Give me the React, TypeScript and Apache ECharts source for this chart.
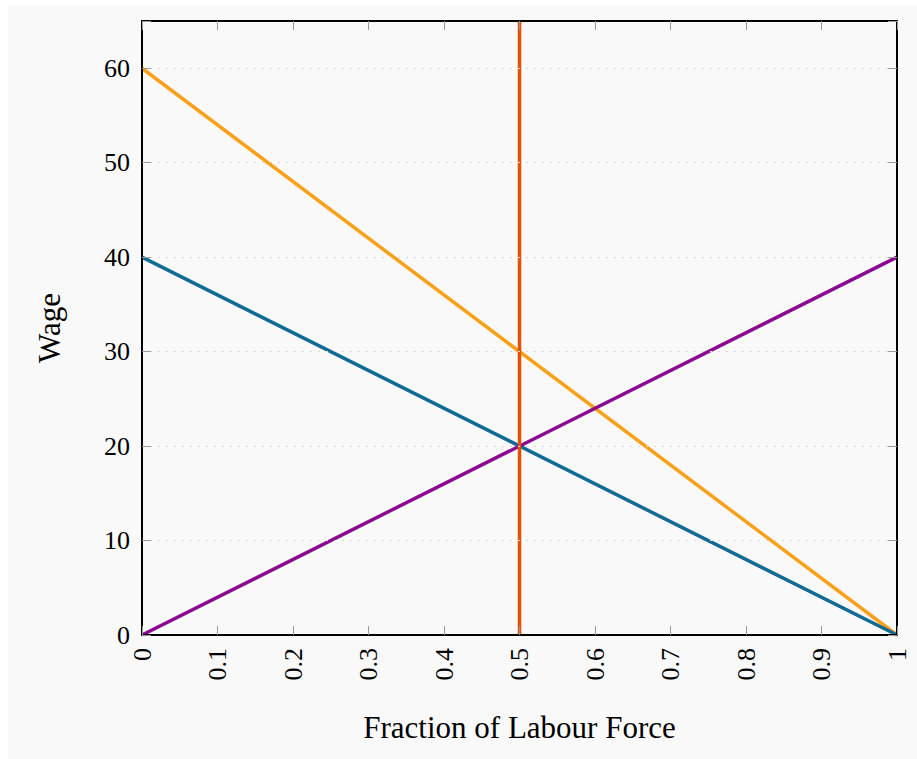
import React, { useEffect, useRef } from "react";
import * as echarts from "echarts";

const xTicks = [0, 0.1, 0.2, 0.3, 0.4, 0.5, 0.6, 0.7, 0.8, 0.9, 1];
const yTicks = [0, 10, 20, 30, 40, 50, 60];
const orangeLine: [number, number][] = [[0, 60], [1, 0]];
const blueLine: [number, number][] = [[0, 40], [1, 0]];
const purpleLine: [number, number][] = [[0, 0], [1, 40]];
const redLine: [number, number][] = [[0.5, 0], [0.5, 65]];

const FONT = "Liberation Serif";

export default function App() {
  const ref = useRef<HTMLDivElement>(null);
  useEffect(() => {
    if (!ref.current) return;
    const chart = echarts.init(ref.current, undefined, { renderer: "svg" });
    const tickStyle = { show: true, inside: true, length: 9, lineStyle: { color: "#999", width: 1 } };
    const axisLine = { show: true, onZero: false, lineStyle: { color: "#000", width: 2 } };
    const lineSeries = (data: [number, number][], color: string, z: number) => ({
      type: "line",
      data,
      symbol: "none",
      lineStyle: { color, width: 3.5 },
      z,
    });
    chart.setOption({
      animation: false,
      backgroundColor: "#f9f9f9",
      grid: { left: 134, right: 20, top: 15, bottom: 124, show: false },
      xAxis: [
        {
          type: "value",
          position: "bottom",
          min: 0,
          max: 1,
          interval: 0.1,
          name: "Fraction of Labour Force",
          nameLocation: "middle",
          nameGap: 77,
          nameTextStyle: { fontFamily: FONT, fontSize: 31, color: "#000" },
          axisLine,
          axisTick: tickStyle,
          splitLine: { show: false },
          axisLabel: {
            rotate: 90,
            margin: 13,
            fontFamily: FONT,
            fontSize: 26,
            color: "#000",
            showMinLabel: true,
            showMaxLabel: true,
            formatter: (v: number) => {
              const r = Math.round(v * 10) / 10;
              return xTicks.includes(r) ? String(r) : "";
            },
          },
          z: 5,
        },
        {
          type: "value",
          position: "top",
          min: 0,
          max: 1,
          interval: 0.1,
          axisLine,
          axisTick: tickStyle,
          axisLabel: { show: false },
          splitLine: { show: false },
          z: 5,
        },
      ],
      yAxis: [
        {
          type: "value",
          position: "left",
          min: 0,
          max: 65,
          interval: 10,
          name: "Wage",
          nameLocation: "middle",
          nameGap: 77,
          nameTextStyle: { fontFamily: FONT, fontSize: 31, color: "#000" },
          axisLine,
          axisTick: tickStyle,
          splitLine: {
            show: true,
            showMinLine: false,
            showMaxLine: false,
            lineStyle: { color: "#d8d8d8", type: [2, 6], width: 1 },
          },
          axisLabel: {
            margin: 12,
            fontFamily: FONT,
            fontSize: 26,
            color: "#000",
            formatter: (v: number) => (yTicks.includes(v) ? String(v) : ""),
          },
          z: 5,
        },
        {
          type: "value",
          position: "right",
          min: 0,
          max: 65,
          interval: 10,
          axisLine,
          axisTick: tickStyle,
          axisLabel: { show: false },
          splitLine: { show: false },
          z: 5,
        },
      ],
      series: [
        lineSeries(orangeLine, "#f7a11a", 3),
        lineSeries(blueLine, "#116b97", 3),
        lineSeries(purpleLine, "#8b0a8e", 3),
        lineSeries(redLine, "#e65000", 4),
      ],
    });
    return () => chart.dispose();
  }, []);
  return (
    <div
      ref={ref}
      style={{ position: "absolute", left: 8, top: 6, width: 909, height: 753 }}
    />
  );
}
